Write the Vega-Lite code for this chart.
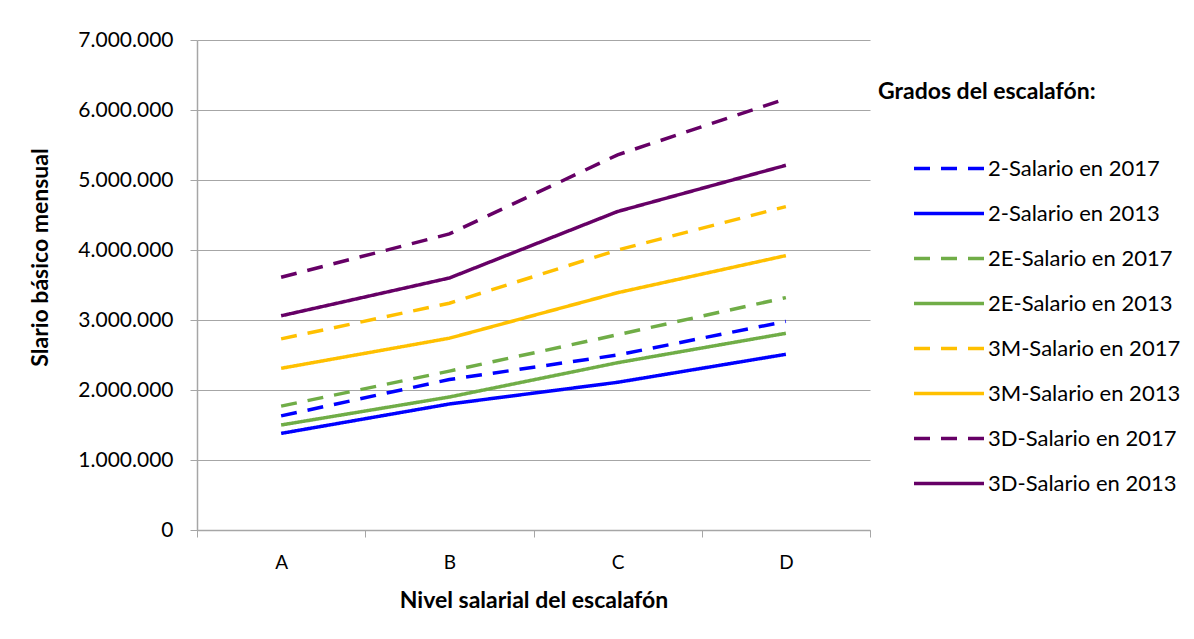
{
  "$schema": "https://vega.github.io/schema/vega-lite/v6.json",
  "autosize": "none",
  "width": 673,
  "height": 490,
  "padding": {"left": 197, "top": 40, "right": 324, "bottom": 109},
  "background": "white",
  "config": {
    "locale": {"number": {"decimal": ",", "thousands": ".", "grouping": [3], "currency": ["", ""]}},
    "view": {"stroke": null},
    "font": "Lato",
    "legend": {
      "orient": "none",
      "legendX": 681,
      "legendY": 41,
      "titleFont": "Lato",
      "titleFontWeight": "bold",
      "titleFontSize": 23,
      "titleColor": "black",
      "titlePadding": 42,
      "titleLimit": 400,
      "labelLimit": 400,
      "symbolType": "stroke",
      "symbolSize": 4900,
      "symbolStrokeWidth": 3.5,
      "symbolOffset": 34,
      "labelFont": "Lato",
      "labelFontSize": 22,
      "labelColor": "black",
      "labelOffset": 2,
      "clipHeight": 45,
      "rowPadding": 0
    }
  },
  "data": {
    "values": [
      {"nivel": "A", "serie": "2-Salario en 2017", "salario": 1630000},
      {"nivel": "B", "serie": "2-Salario en 2017", "salario": 2150000},
      {"nivel": "C", "serie": "2-Salario en 2017", "salario": 2500000},
      {"nivel": "D", "serie": "2-Salario en 2017", "salario": 2980000},
      {"nivel": "A", "serie": "2-Salario en 2013", "salario": 1380000},
      {"nivel": "B", "serie": "2-Salario en 2013", "salario": 1800000},
      {"nivel": "C", "serie": "2-Salario en 2013", "salario": 2110000},
      {"nivel": "D", "serie": "2-Salario en 2013", "salario": 2510000},
      {"nivel": "A", "serie": "2E-Salario en 2017", "salario": 1770000},
      {"nivel": "B", "serie": "2E-Salario en 2017", "salario": 2270000},
      {"nivel": "C", "serie": "2E-Salario en 2017", "salario": 2790000},
      {"nivel": "D", "serie": "2E-Salario en 2017", "salario": 3320000},
      {"nivel": "A", "serie": "2E-Salario en 2013", "salario": 1500000},
      {"nivel": "B", "serie": "2E-Salario en 2013", "salario": 1900000},
      {"nivel": "C", "serie": "2E-Salario en 2013", "salario": 2390000},
      {"nivel": "D", "serie": "2E-Salario en 2013", "salario": 2810000},
      {"nivel": "A", "serie": "3M-Salario en 2017", "salario": 2730000},
      {"nivel": "B", "serie": "3M-Salario en 2017", "salario": 3240000},
      {"nivel": "C", "serie": "3M-Salario en 2017", "salario": 4000000},
      {"nivel": "D", "serie": "3M-Salario en 2017", "salario": 4620000},
      {"nivel": "A", "serie": "3M-Salario en 2013", "salario": 2310000},
      {"nivel": "B", "serie": "3M-Salario en 2013", "salario": 2740000},
      {"nivel": "C", "serie": "3M-Salario en 2013", "salario": 3390000},
      {"nivel": "D", "serie": "3M-Salario en 2013", "salario": 3920000},
      {"nivel": "A", "serie": "3D-Salario en 2017", "salario": 3610000},
      {"nivel": "B", "serie": "3D-Salario en 2017", "salario": 4230000},
      {"nivel": "C", "serie": "3D-Salario en 2017", "salario": 5360000},
      {"nivel": "D", "serie": "3D-Salario en 2017", "salario": 6160000},
      {"nivel": "A", "serie": "3D-Salario en 2013", "salario": 3060000},
      {"nivel": "B", "serie": "3D-Salario en 2013", "salario": 3600000},
      {"nivel": "C", "serie": "3D-Salario en 2013", "salario": 4550000},
      {"nivel": "D", "serie": "3D-Salario en 2013", "salario": 5210000}
    ]
  },
  "mark": {"type": "line", "strokeWidth": 3.5, "strokeCap": "butt"},
  "encoding": {
    "x": {
      "field": "nivel",
      "type": "ordinal",
      "scale": {"type": "band", "paddingInner": 0, "paddingOuter": 0},
      "axis": {
        "title": "Nivel salarial del escalafón",
        "titleFont": "Lato",
        "titleFontWeight": "bold",
        "titleFontSize": 23,
        "titleColor": "black",
        "titleY": 70,
        "titleBaseline": "middle",
        "labelFont": "Lato",
        "labelFontSize": 19,
        "labelColor": "black",
        "labelAngle": 0,
        "labelPadding": 16,
        "tickBand": "extent",
        "tickSize": 7,
        "tickColor": "#A6A6A6",
        "domainColor": "#A6A6A6",
        "domainWidth": 1.5,
        "grid": false
      }
    },
    "y": {
      "field": "salario",
      "type": "quantitative",
      "scale": {"domain": [0, 7000000]},
      "axis": {
        "title": "Slario básico mensual",
        "titleFont": "Lato",
        "titleFontWeight": "bold",
        "titleFontSize": 23,
        "titleColor": "black",
        "titleX": -157,
        "titleY": 217,
        "titleAlign": "center",
        "titleBaseline": "middle",
        "values": [0, 1000000, 2000000, 3000000, 4000000, 5000000, 6000000, 7000000],
        "format": ",d",
        "labelFont": "Lato",
        "labelFontSize": 21,
        "labelColor": "black",
        "labelPadding": 17,
        "tickSize": 7,
        "tickColor": "#A6A6A6",
        "domainColor": "#A6A6A6",
        "domainWidth": 1.5,
        "grid": true,
        "gridColor": "#A6A6A6",
        "gridWidth": 1.2
      }
    },
    "color": {
      "field": "serie",
      "type": "nominal",
      "scale": {
        "domain": ["2-Salario en 2017", "2-Salario en 2013", "2E-Salario en 2017", "2E-Salario en 2013", "3M-Salario en 2017", "3M-Salario en 2013", "3D-Salario en 2017", "3D-Salario en 2013"],
        "range": ["#0000FF", "#0000FF", "#70AD47", "#70AD47", "#FFC000", "#FFC000", "#660066", "#660066"]
      },
      "legend": {"title": "Grados del escalafón:"}
    },
    "strokeDash": {
      "field": "serie",
      "type": "nominal",
      "scale": {
        "domain": ["2-Salario en 2017", "2-Salario en 2013", "2E-Salario en 2017", "2E-Salario en 2013", "3M-Salario en 2017", "3M-Salario en 2013", "3D-Salario en 2017", "3D-Salario en 2013"],
        "range": [[16, 11], [1, 0], [16, 11], [1, 0], [16, 11], [1, 0], [16, 11], [1, 0]]
      },
      "legend": {"title": "Grados del escalafón:"}
    }
  }
}
